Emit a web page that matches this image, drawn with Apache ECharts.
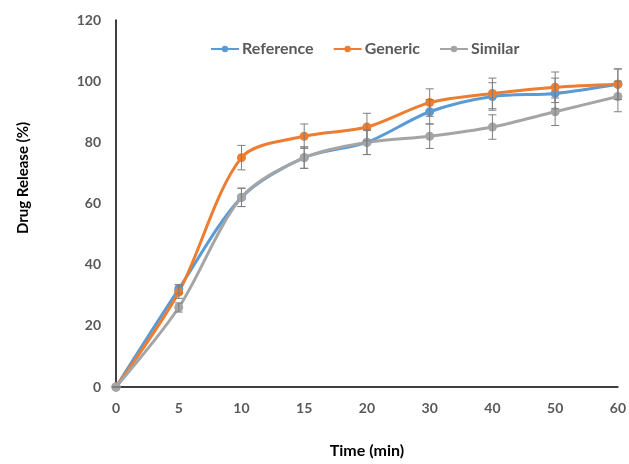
<!DOCTYPE html>
<html>
<head>
<meta charset="utf-8">
<script src="https://cdn.jsdelivr.net/npm/echarts@6/dist/echarts.min.js"></script>
<style>html,body{margin:0;padding:0;background:#fff}#c{width:629px;height:464px}</style>
</head>
<body>
<div id="c"></div>
<script>
var times = ['0','5','10','15','20','30','40','50','60'];
var reference = [0, 32, 62, 75, 80, 90, 95, 96, 99];
var generic = [0, 31, 75, 82, 85, 93, 96, 98, 99];
var similar = [0, 26, 62, 75, 80, 82, 85, 90, 95];
var referenceErr = [0, 1.5, 3, 3.5, 4, 4, 4.5, 5, 5];
var genericErr = [0, 2, 4, 4, 4.5, 4.5, 5, 5, 5];
var similarErr = [0, 1.5, 3, 3.5, 4, 4, 4, 4.5, 5];
var yTicks = [0, 20, 40, 60, 80, 100, 120];

var colors = ['#5B9BD5', '#ED7D31', '#A5A5A5'];
var font = 'Lato';

function errSeries(vals, errs) {
  var d = vals.map(function (v, i) { return [i, v - errs[i], v + errs[i]]; });
  return {
    type: 'custom',
    silent: true,
    z: 3,
    data: d,
    renderItem: function (params, api) {
      var x = api.value(0);
      var lo = api.coord([x, api.value(1)]);
      var hi = api.coord([x, api.value(2)]);
      var w = 4;
      var st = { stroke: '#7F7F7F', lineWidth: 1 };
      return {
        type: 'group',
        children: [
          { type: 'line', shape: { x1: lo[0], y1: lo[1], x2: hi[0], y2: hi[1] }, style: st },
          { type: 'line', shape: { x1: lo[0] - w, y1: lo[1], x2: lo[0] + w, y2: lo[1] }, style: st },
          { type: 'line', shape: { x1: hi[0] - w, y1: hi[1], x2: hi[0] + w, y2: hi[1] }, style: st }
        ]
      };
    }
  };
}

function lineSeries(name, vals, color) {
  return {
    name: name,
    type: 'line',
    data: vals,
    smooth: 0.3,
    symbol: 'circle',
    symbolSize: 9,
    z: 2,
    lineStyle: { width: 3, color: color },
    itemStyle: { color: color }
  };
}

var chart = echarts.init(document.getElementById('c'), null, { renderer: 'canvas' });
chart.setOption({
  animation: false,
  color: colors,
  grid: { left: 116, right: 8, top: 20, bottom: 73 },
  legend: {
    top: 36,
    left: 205,
    itemWidth: 28,
    itemHeight: 8,
    itemGap: 19,
    textStyle: { fontFamily: font, fontWeight: 'bold', fontSize: 16, color: '#595959', padding: [0, 0, 0, -2] },
    data: ['Reference', 'Generic', 'Similar']
  },
  graphic: [{
    type: 'text',
    x: 23,
    y: 178,
    rotation: Math.PI / 2,
    style: {
      text: 'Drug Release (%)',
      fontFamily: font,
      fontWeight: 'bold',
      fontSize: 15,
      fill: '#000',
      align: 'center',
      verticalAlign: 'middle'
    }
  }],
  xAxis: {
    type: 'category',
    data: times,
    boundaryGap: false,
    name: 'Time (min)',
    nameLocation: 'middle',
    nameGap: 56,
    nameTextStyle: { fontFamily: font, fontWeight: 'bold', fontSize: 16, color: '#000' },
    axisLine: { lineStyle: { color: '#000', width: 1.5 } },
    axisTick: { show: false },
    axisLabel: { margin: 14, fontFamily: font, fontWeight: 'bold', fontSize: 14, color: '#595959' },
    splitLine: { show: false }
  },
  yAxis: {
    type: 'value',
    min: yTicks[0],
    max: yTicks[yTicks.length - 1],
    interval: 20,
    axisLine: { show: true, lineStyle: { color: '#000', width: 1.5 } },
    axisTick: { show: false },
    axisLabel: { margin: 15, fontFamily: font, fontWeight: 'bold', fontSize: 14, color: '#595959' },
    splitLine: { show: false }
  },
  series: [
    lineSeries('Reference', reference, colors[0]),
    lineSeries('Generic', generic, colors[1]),
    lineSeries('Similar', similar, colors[2]),
    errSeries(reference, referenceErr),
    errSeries(generic, genericErr),
    errSeries(similar, similarErr)
  ]
});
</script>
</body>
</html>
